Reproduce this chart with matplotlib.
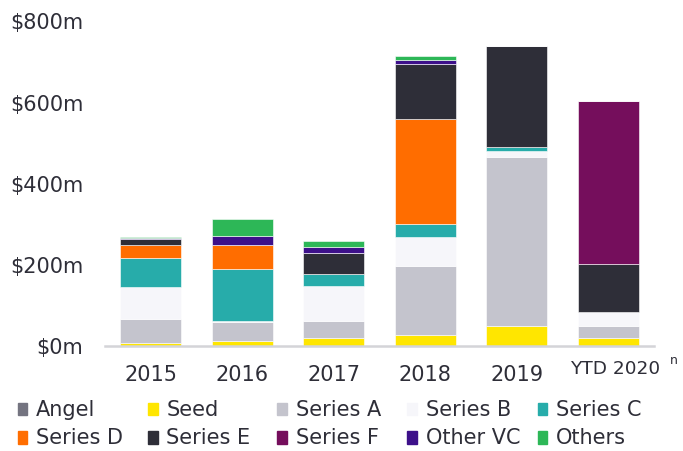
import matplotlib
matplotlib.use("Agg")
import matplotlib.pyplot as plt
from matplotlib.patches import Rectangle
import numpy as np

categories = ["2015", "2016", "2017", "2018", "2019", "YTD 2020"]
series_names = ["Angel", "Seed", "Series A", "Series B", "Series C",
                "Series D", "Series E", "Series F", "Other VC", "Others"]
angel    = [0, 0, 0, 0, 0, 0]
seed     = [7, 12, 18, 26, 47, 18]
series_a = [58, 46, 43, 170, 416, 29]
series_b = [80, 2, 86, 71, 15, 35]
series_c = [71, 127, 30, 31, 10, 0]
series_d = [31, 60, 0, 259, 0, 0]
series_e = [14, 0, 50, 135, 250, 119]
series_f = [0, 0, 0, 0, 0, 401]
other_vc = [3, 22, 15, 10, 0, 0]
others   = [3, 42, 15, 11, 0, 0]
yticks = [0, 200, 400, 600, 800]
ytick_labels = ["$0m", "$200m", "$400m", "$600m", "$800m"]

colors = ["#747480", "#FFE600", "#C4C4CD", "#F6F6FA", "#27ACAA",
          "#FF6D00", "#2E2E38", "#750E5C", "#3D108A", "#2DB757"]
data = [angel, seed, series_a, series_b, series_c, series_d,
        series_e, series_f, other_vc, others]

plt.rcParams['font.family'] = ['DejaVu Sans']
txt = "#2E2E38"

fig = plt.figure(figsize=(6.83, 4.52), dpi=100)
ax = fig.add_axes([105/683, 1-346.5/452, 549/683, (346.5-21.3)/452])

x = np.arange(len(categories))
bottom = np.zeros(len(categories))
for name, vals, c in zip(series_names, data, colors):
    vals = np.array(vals, dtype=float)
    ax.bar(x, vals, bottom=bottom, width=0.667, color=c, label=name,
           edgecolor="white", linewidth=0.4)
    bottom += vals

ax.set_xlim(-0.5, 5.5)
ax.set_ylim(0, 800)
ax.set_yticks(yticks)
ax.set_yticklabels([l.replace("$", r"\$") for l in ytick_labels])
ax.set_xticks(x)
ax.set_xticklabels(categories[:-1] + [""])
ax.tick_params(axis='both', length=0, labelsize=15, colors=txt)
ax.tick_params(axis='y', pad=15.5)
ax.tick_params(axis='x', pad=13)
for s in ["top", "right", "left"]:
    ax.spines[s].set_visible(False)
ax.spines["bottom"].set_color("#D4D4D8")
ax.spines["bottom"].set_linewidth(1.8)

# the YTD label sits slightly higher/smaller with a superscript note
px = 72 / 100
ax.annotate(categories[-1], xy=(x[-1], 0), xytext=(7 * px, -22.5 * px),
            textcoords="offset points", ha="center", va="center",
            fontsize=13.3, color=txt, annotation_clip=False)
ax.annotate("n", xy=(x[-1], 0), xytext=(66 * px, -14.5 * px),
            textcoords="offset points", ha="center", va="center",
            fontsize=9, color=txt, annotation_clip=False)

# legend
mx = [17.5, 148, 277, 407, 537.5]
rows_y = [410, 438.5]
for i, (name, c) in enumerate(zip(series_names, colors)):
    r, col = divmod(i, 5)
    cx = mx[col]
    cy = rows_y[r]
    fig.patches.append(Rectangle((cx/683, 1-(cy+6.2)/452), 9.5/683, 12.4/452,
                                 transform=fig.transFigure, color=c, figure=fig))
    fig.text((cx+18.5)/683, 1-cy/452, name, fontsize=15, color=txt,
             ha="left", va="center")

fig.savefig("out.png", dpi=100, facecolor="white")
